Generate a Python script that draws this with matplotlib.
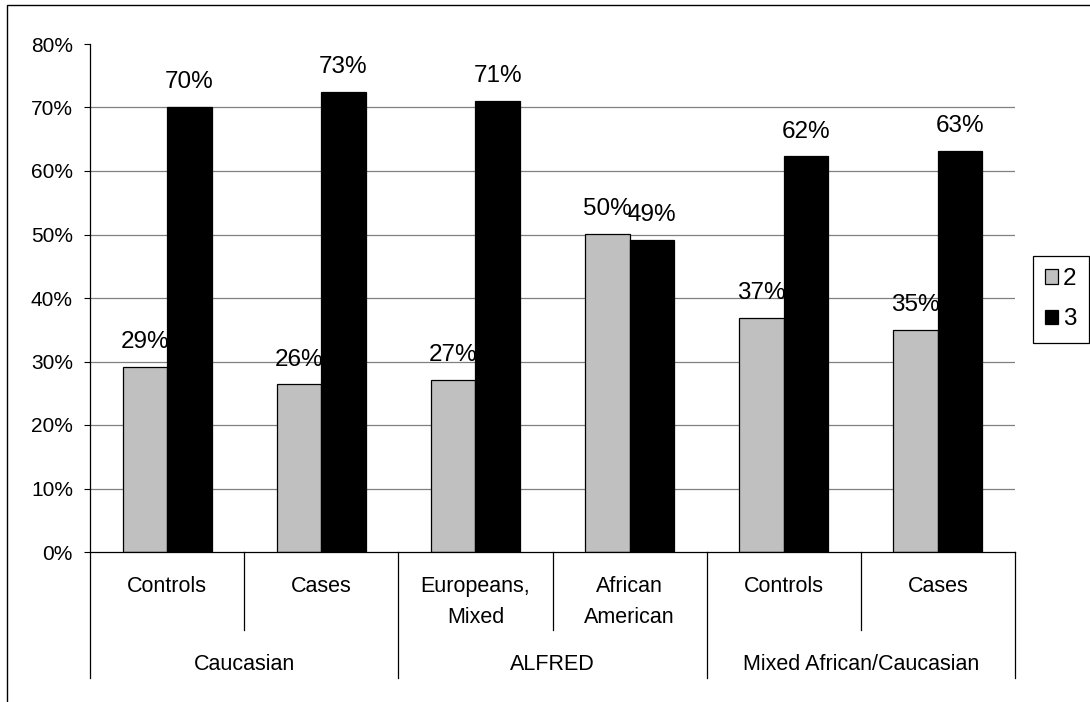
import matplotlib
matplotlib.use('Agg')
import matplotlib.pyplot as plt
import matplotlib.transforms as mtransforms
from matplotlib.patches import Rectangle
import numpy as np

subgroups = ['Controls', 'Cases', 'Europeans,\nMixed', 'African\nAmerican', 'Controls', 'Cases']
groups = ['Caucasian', 'ALFRED', 'Mixed African/Caucasian']
group_span = [(0, 2), (2, 4), (4, 6)]
series_names = ['2', '3']
vals_2 = [29.1, 26.4, 27.1, 50.1, 36.9, 35.0]
vals_3 = [70.1, 72.5, 71.0, 49.2, 62.3, 63.2]
labels_2 = ['29%', '26%', '27%', '50%', '37%', '35%']
labels_3 = ['70%', '73%', '71%', '49%', '62%', '63%']
yticks = [0, 10, 20, 30, 40, 50, 60, 70, 80]

W, H = 1090, 702
plt.rcParams['font.family'] = ['Liberation Sans', 'DejaVu Sans']
plt.rcParams['font.size'] = 15

fig = plt.figure(figsize=(W / 100, H / 100), dpi=100)
ax = fig.add_axes([90 / W, 1 - 552 / H, (1015 - 90) / W, (552 - 44) / H])

x = np.arange(len(subgroups))
bw = 0.289
bars2 = ax.bar(x - bw / 2, vals_2, bw, color='#c0c0c0', edgecolor='black', linewidth=0.9, zorder=2, label=series_names[0])
bars3 = ax.bar(x + bw / 2, vals_3, bw, color='black', edgecolor='black', linewidth=0.9, zorder=4, label=series_names[1])

for xi, v, t in zip(x - bw / 2, vals_2, labels_2):
    ax.annotate(t, (xi, v), xytext=(0, 13.5), textcoords='offset points',
                ha='center', va='baseline', fontsize=17.5, zorder=3)
for xi, v, t in zip(x + bw / 2, vals_3, labels_3):
    ax.annotate(t, (xi, v), xytext=(0, 13.5), textcoords='offset points',
                ha='center', va='baseline', fontsize=17.5, zorder=5)

ax.set_xlim(-0.5, 5.5)
ax.set_ylim(0, 80)
ax.set_yticks(yticks)
ax.set_yticklabels([f'{t}%' for t in yticks])
ax.tick_params(axis='y', length=4.3, width=0.8, pad=8, direction='out')
ax.tick_params(axis='x', length=0, labelbottom=False)
for t in yticks[1:-1]:
    ax.axhline(t, color='#808080', linewidth=0.9, zorder=0)

for s in ['top', 'right', 'left']:
    ax.spines[s].set_visible(False)
ax.spines['bottom'].set_linewidth(0.9)

# category axis built by hand (two levels)
trans = mtransforms.blended_transform_factory(ax.transData, ax.transAxes)
px = 1 / (552 - 44)
y_sub = -(630 - 552) * px
y_grp = -(678 - 552) * px
ax.plot([-0.5, -0.5], [1, y_grp], color='black', lw=0.9, transform=trans, clip_on=False)
for g0, g1 in group_span:
    ax.plot([g1 - 0.5, g1 - 0.5], [0, y_grp], color='black', lw=0.9, transform=trans, clip_on=False)
    ax.plot([g0 + 0.5, g0 + 0.5], [0, y_sub], color='black', lw=0.9, transform=trans, clip_on=False)
for xi, t in zip(x, subgroups):
    ax.text(xi, -(576 - 552) * px, t, transform=trans, ha='center', va='top',
            multialignment='center', linespacing=1.65, fontsize=15.5)
for (g0, g1), t in zip(group_span, groups):
    ax.text((g0 + g1 - 1) / 2, -(670 - 552) * px, t, transform=trans, ha='center', va='baseline',
            fontsize=15.5)

leg = fig.legend(handles=[bars2, bars3], loc='upper left', bbox_to_anchor=(1033 / W, 1 - 256 / H),
                 frameon=True, fancybox=False, edgecolor='black', framealpha=1, fontsize=17.5,
                 handlelength=0.54, handleheight=0.54, handletextpad=0.2, labelspacing=0.75,
                 borderpad=0.5, borderaxespad=0)
leg.get_frame().set_linewidth(0.9)

fig.patches.append(Rectangle((7 / W, -0.1), 1.2, 1.1 - 5 / H, transform=fig.transFigure,
                             fill=False, edgecolor='black', linewidth=1.0))

fig.savefig('out.png', dpi=100)
